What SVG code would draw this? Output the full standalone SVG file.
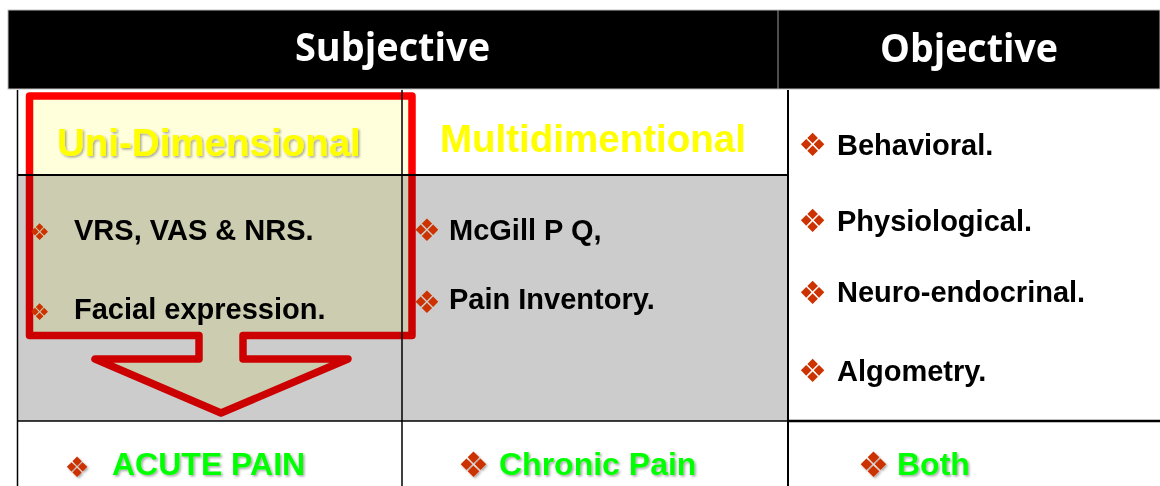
<svg xmlns="http://www.w3.org/2000/svg" width="1160" height="486" viewBox="0 0 1160 486">
  <defs>
    <filter id="shadow" x="-10%" y="-30%" width="120%" height="160%">
      <feDropShadow dx="1.5" dy="1.5" stdDeviation="1" flood-color="#000" flood-opacity="0.35"/>
    </filter>
  </defs>
  <style>
    .hdr { font-family: "Open Sans", "Liberation Sans", sans-serif; font-weight: 700; font-size: 40px; fill: #ffffff; }
    .sub { font-family: "Liberation Sans", Arial, sans-serif; font-weight: 700; font-size: 38.5px; fill: #ffff00; }
    .item { font-family: "Liberation Sans", Arial, sans-serif; font-weight: 700; font-size: 29px; fill: #000000; }
    .res { font-family: "Liberation Sans", Arial, sans-serif; font-weight: 700; font-size: 32px; fill: #00ff00; }
    .bul { font-family: "DejaVu Sans", sans-serif; fill: #cc3300; text-anchor: middle; }
    .grid { fill: none; stroke: #000; }
  </style>

  <rect x="0" y="0" width="1160" height="486" fill="#ffffff"/>

  <g id="header">
    <rect x="8" y="10" width="1152" height="79" fill="#000" stroke="#bdbdbd" stroke-width="1"/>
    <line x1="778" y1="10" x2="778" y2="89" stroke="#9a9a9a" stroke-width="1"/>
    <text class="hdr" x="295" y="61" textLength="195" lengthAdjust="spacingAndGlyphs">Subjective</text>
    <text class="hdr" x="880" y="62" textLength="178" lengthAdjust="spacingAndGlyphs">Objective</text>
  </g>

  <g id="table">
    <rect x="17.5" y="175" width="770.5" height="246" fill="#cccccc"/>
    <line class="grid" x1="17.5" y1="90" x2="17.5" y2="486" stroke-width="1.5"/>
    <line class="grid" x1="402" y1="90" x2="402" y2="486" stroke="#333" stroke-width="1.5"/>
    <line class="grid" x1="788" y1="90" x2="788" y2="486" stroke-width="2"/>
    <line class="grid" x1="17" y1="175" x2="789" y2="175" stroke-width="2"/>
    <line class="grid" x1="17" y1="421" x2="788" y2="421" stroke="#333" stroke-width="1.5"/>
    <line class="grid" x1="788" y1="421" x2="1160" y2="421" stroke-width="2.5"/>
  </g>

  <g id="highlight">
    <path d="M29.5,96 H412 V335.5 H243 V359 H348 L221,413 L95,359 H199 V335.5 H29.5 Z" fill="#ffffdc" stroke="#ff0000" stroke-width="7.5" stroke-linejoin="round" style="mix-blend-mode:multiply"/>
  </g>

  <g id="uni-dimensional">
    <text class="sub" x="57" y="156" filter="url(#shadow)">Uni-Dimensional</text>
    <text class="bul" x="39.5" y="240" font-size="23">❖</text>
    <text class="item" x="74" y="240">VRS, VAS &amp; NRS.</text>
    <text class="bul" x="39.5" y="320" font-size="23">❖</text>
    <text class="item" x="74" y="319">Facial expression.</text>
  </g>

  <g id="multidimensional">
    <text class="sub" x="440" y="152">Multidimentional</text>
    <text class="bul" x="427" y="241" font-size="31">❖</text>
    <text class="item" x="449" y="240">McGill P Q,</text>
    <text class="bul" x="427" y="313" font-size="31">❖</text>
    <text class="item" x="449" y="309">Pain Inventory.</text>
  </g>

  <g id="objective">
    <text class="bul" x="812.5" y="155.5" font-size="32">❖</text>
    <text class="item" x="837" y="155">Behavioral.</text>
    <text class="bul" x="812.5" y="231.5" font-size="32">❖</text>
    <text class="item" x="837" y="231">Physiological.</text>
    <text class="bul" x="812.5" y="303.5" font-size="32">❖</text>
    <text class="item" x="837" y="302">Neuro-endocrinal.</text>
    <text class="bul" x="812.5" y="381.5" font-size="32">❖</text>
    <text class="item" x="837" y="381">Algometry.</text>
  </g>

  <g id="acute-pain">
    <text class="bul" x="77" y="477" font-size="28" filter="url(#shadow)">❖</text>
    <text class="res" x="112" y="475" filter="url(#shadow)">ACUTE PAIN</text>
  </g>
  <g id="chronic-pain">
    <text class="bul" x="473.5" y="476.5" font-size="35" filter="url(#shadow)">❖</text>
    <text class="res" x="499" y="475" filter="url(#shadow)">Chronic Pain</text>
  </g>
  <g id="both">
    <text class="bul" x="873.5" y="476.5" font-size="35" filter="url(#shadow)">❖</text>
    <text class="res" x="897" y="475" filter="url(#shadow)">Both</text>
  </g>
</svg>
